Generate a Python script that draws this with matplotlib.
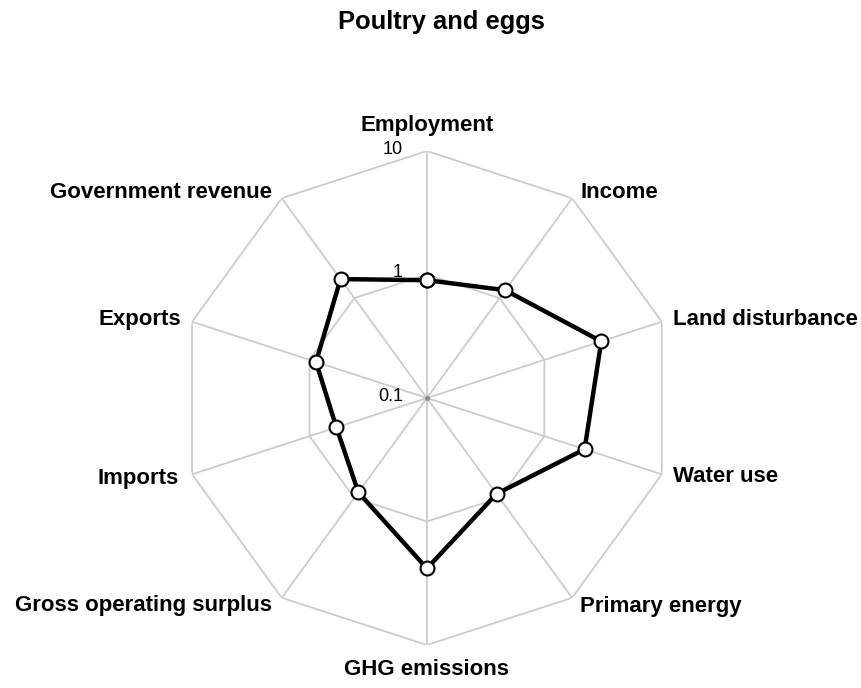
import numpy as np
import matplotlib
matplotlib.use("Agg")
import matplotlib.pyplot as plt

plt.rcParams["font.family"] = ["Liberation Sans", "DejaVu Sans"]

# Categories, clockwise from the top
categories = ["Employment", "Income", "Land disturbance", "Water use",
              "Primary energy", "GHG emissions", "Gross operating surplus",
              "Imports", "Exports", "Government revenue"]

# Values (log scale 0.1 - 10)
values = [0.90, 1.2, 3.05, 2.2, 0.91, 2.4, 0.88, 0.59, 0.88, 1.55]

ring_values = [1, 10]
ring_labels = ["0.1", "1", "10"]
ring_label_pos = [0.1, 1, 10]

n = len(categories)
angles = np.linspace(0, 2 * np.pi, n, endpoint=False)

fig = plt.figure(figsize=(8.61, 6.88), dpi=100)
ax = fig.add_axes([0.209, 0.0625, 0.5737, 0.718], projection="polar")
ax.set_theta_offset(np.pi / 2)
ax.set_theta_direction(-1)
ax.set_rscale("log")
ax.set_rlim(0.1, 10)
ax.grid(False)
ax.set_xticks([])
ax.set_yticks([])
ax.spines["polar"].set_visible(False)
ax.patch.set_alpha(0)

grid_c = "#cccccc"

# polygon rings
for rv in ring_values:
    ax.plot(np.append(angles, angles[0]), [rv] * (n + 1), color=grid_c, lw=1.3, zorder=1)

# spokes
for a in angles:
    ax.plot([a, a], [0.1, 10], color=grid_c, lw=1.3, zorder=1)

ax.plot([0], [0.1], marker="o", ms=2.5, color="#888888", zorder=2)

# data
ax.plot(np.append(angles, angles[0]), values + [values[0]], color="black",
        lw=3.2, marker="o", ms=10, mfc="white", mec="black", mew=1.5, zorder=3)

# ring labels
for lab, rv in zip(ring_labels, ring_label_pos):
    ax.annotate(lab, xy=(0, rv), xytext=(-24, 2), textcoords="offset pixels",
                ha="right", va="center", fontsize=13)

# category labels: (dx, dy) pixel offsets from the outer vertex
label_offsets = [(0, 26, "center"), (8, 6, "left"), (11, 2, "left"),
                 (11, -2, "left"), (8, -9, "left"), (0, -25, "center"),
                 (-10, -8, "right"), (-13, -4, "right"), (-11, 2, "right"),
                 (-10, 6, "right")]
for cat, a, (dx, dy, ha) in zip(categories, angles, label_offsets):
    ax.annotate(cat, xy=(a, 10), xytext=(dx, dy), textcoords="offset pixels",
                ha=ha, va="center", fontsize=16, fontweight="bold")

fig.text(441 / 861, 1 - 22 / 688, "Poultry and eggs", ha="center", va="center",
         fontsize=18.4, fontweight="bold")

fig.savefig("out.png", dpi=100)
